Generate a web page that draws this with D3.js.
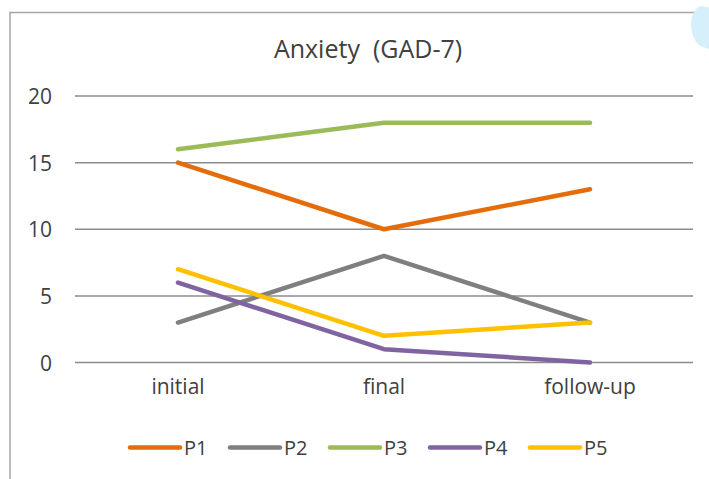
<!DOCTYPE html>
<html><head><meta charset="utf-8">
<script src="https://cdn.jsdelivr.net/npm/d3@7"></script>
<style>body{margin:0;background:#fff;} svg{display:block;font-family:"Open Sans",sans-serif;}</style>
</head><body>
<svg id="c" width="709" height="479"></svg>
<script>
const categories = ["initial", "final", "follow-up"];
const seriesNames = ["P1", "P2", "P3", "P4", "P5"];
const P1 = [15, 10, 13];
const P2 = [3, 8, 3];
const P3 = [16, 18, 18];
const P4 = [6, 1, 0];
const P5 = [7, 2, 3];
const yTicks = [0, 5, 10, 15, 20];
const colors = ["#E46C0A", "#7F7F7F", "#9BBB59", "#8064A2", "#FFC000"];
const seriesValues = [P1, P2, P3, P4, P5];

const svg = d3.select("#c");
// frame
svg.append("line").attr("x1",9.5).attr("x2",709).attr("y1",12.5).attr("y2",12.5).attr("stroke","#a6a6a6").attr("stroke-width",1.5);
svg.append("line").attr("x1",10).attr("x2",10).attr("y1",12).attr("y2",479).attr("stroke","#a6a6a6").attr("stroke-width",1.5);
// watermark
svg.append("path").attr("d","M712,8 L700,6 C688,12 688,36 700,46 L712,50 Z").attr("fill","#d6f0fb");

svg.append("text").attr("x",368).attr("y",58).attr("text-anchor","middle").attr("font-size",25).attr("fill","#404040")
  .style("white-space","pre").text("Anxiety  (GAD-7)");

const x = d3.scaleBand().domain(categories).range([75, 693]);
const y = d3.scaleLinear().domain([0, 20]).range([362.5, 96]);

const grid = svg.append("g");
grid.selectAll("line").data(yTicks).join("line")
  .attr("x1",75).attr("x2",693).attr("y1",d=>y(d)).attr("y2",d=>y(d))
  .attr("stroke","#8c8c8c").attr("stroke-width",1.5);

const yAxis = svg.append("g").attr("transform","translate(75,0)")
  .call(d3.axisLeft(y).tickValues(yTicks).tickSize(0).tickPadding(23));
yAxis.select(".domain").remove();
yAxis.selectAll("text").attr("font-size",21).attr("fill","#404040").attr("font-family","Open Sans").attr("dy","0.36em");

const xAxis = svg.append("g").attr("transform","translate(0,362.5)")
  .call(d3.axisBottom(x).tickSize(0).tickPadding(17));
xAxis.select(".domain").remove();
xAxis.selectAll("text").attr("font-size",21).attr("fill","#404040").attr("font-family","Open Sans");

const line = d3.line().x((d,i)=>x(categories[i])+x.bandwidth()/2).y(d=>y(d));
svg.append("g").selectAll("path").data(seriesValues).join("path")
  .attr("d", line).attr("fill","none").attr("stroke",(d,i)=>colors[i])
  .attr("stroke-width",4.5).attr("stroke-linecap","round").attr("stroke-linejoin","round");

const lg = svg.append("g").selectAll("g").data(seriesNames).join("g")
  .attr("transform",(d,i)=>`translate(${130+i*100},447.5)`);
lg.append("line").attr("x1",0).attr("x2",50).attr("stroke",(d,i)=>colors[i]).attr("stroke-width",4.5).attr("stroke-linecap","round");
lg.append("text").attr("x",54).attr("dy","0.36em").attr("font-size",20).attr("fill","#404040").text(d=>d);
</script>
</body></html>
